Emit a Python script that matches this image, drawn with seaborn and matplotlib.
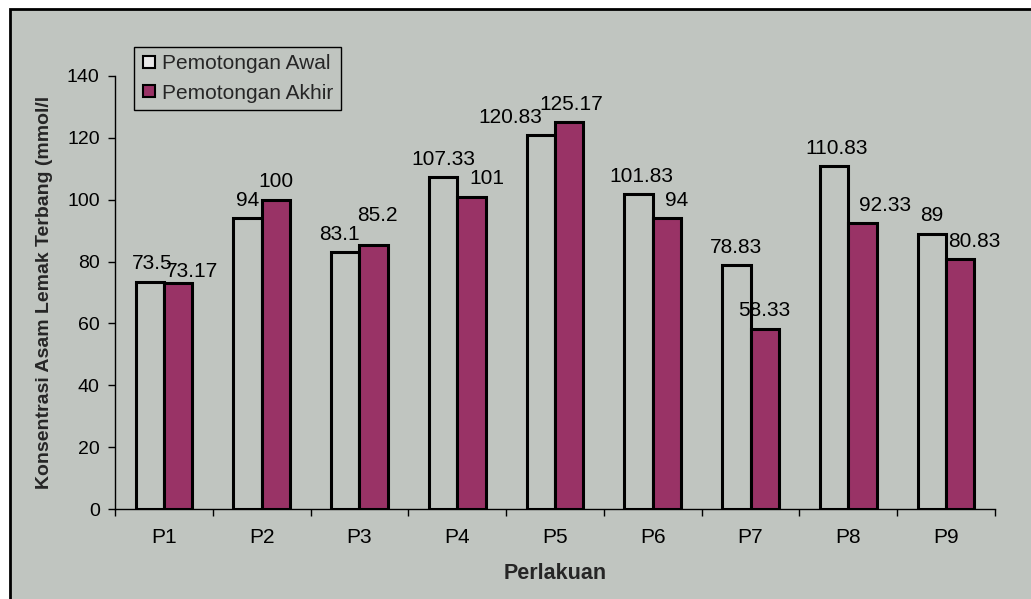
import numpy as np
import pandas as pd
import matplotlib.pyplot as plt
import seaborn as sns
from matplotlib.lines import Line2D
from matplotlib.patches import Rectangle

# data
perlakuan = ['P1', 'P2', 'P3', 'P4', 'P5', 'P6', 'P7', 'P8', 'P9']
awal = [73.5, 94, 83.1, 107.33, 120.83, 101.83, 78.83, 110.83, 89]
akhir = [73.17, 100, 85.2, 101, 125.17, 94, 58.33, 92.33, 80.83]
seri = ['Pemotongan Awal', 'Pemotongan Akhir']

# label nudges in pixels (the original labels were dragged around a bit)
dx_awal = [2, 0, -6, 0, -31, 3, 0, 2, 0]
dx_akhir = [14, 0, 4, 15, 2, 10, 0, 23, 14]
dy_awal = [0, 0, 0, 0, 0, 0, 0, 0, 0]
dy_akhir = [-7, 0, 12, 0, 0, 0, 0, 0, 0]

bg = '#C0C5C0'
maroon = '#993366'

df = pd.DataFrame({
    'Perlakuan': perlakuan * 2,
    'Seri': [seri[0]] * len(awal) + [seri[1]] * len(akhir),
    'Nilai': awal + akhir,
})

sns.set_style('ticks')
plt.rcParams['font.family'] = ['Liberation Sans', 'DejaVu Sans']

W, H = 1031, 599
fig = plt.figure(figsize=(W / 100, H / 100), dpi=100)
fig.patch.set_facecolor('white')
# grey chart area with the black frame (only top/left edge visible)
fig.add_artist(Rectangle((9.5 / W, -0.1), 1.2, 1.1 - 9.5 / H,
                         transform=fig.transFigure, facecolor=bg,
                         edgecolor='black', linewidth=2, zorder=-1))

ax = fig.add_axes([115 / W, 1 - 509 / H, 880 / W, 433 / H])
ax.set_facecolor('none')

sns.barplot(data=df, x='Perlakuan', y='Nilai', hue='Seri',
            palette=[bg, maroon], width=0.58, saturation=1,
            edgecolor='black', linewidth=2.2, legend=False, ax=ax)

# value labels above the bars
pad = 6
px = 72 / 100
for cont, vals, dxs, dys in zip(ax.containers, [awal, akhir],
                                [dx_awal, dx_akhir], [dy_awal, dy_akhir]):
    texts = ax.bar_label(cont, labels=[f'{v:g}' for v in vals], padding=pad,
                         fontsize=15, color='black')
    for t, dx, dy in zip(texts, dxs, dys):
        t.xyann = (dx * px, pad + dy * px)

ax.set_xlim(-0.5, len(perlakuan) - 0.5)
ax.set_ylim(0, 140)
ax.set_yticks(np.arange(0, 141, 20))
ax.tick_params(axis='y', length=5, width=1, pad=6, labelsize=14, colors='black')
ax.tick_params(axis='x', which='major', length=0, pad=14, labelsize=15, colors='black')
ax.set_xticks(np.arange(-0.5, len(perlakuan), 1), minor=True)
ax.tick_params(axis='x', which='minor', length=5, width=1, color='black')

for s in ['top', 'right']:
    ax.spines[s].set_visible(False)
for s in ['left', 'bottom']:
    ax.spines[s].set_color('black')
    ax.spines[s].set_linewidth(1)

ax.set_xlabel('Perlakuan', fontsize=15.5, fontweight='bold', labelpad=11)
ax.set_ylabel('Konsentrasi Asam Lemak Terbang (mmol/l', fontsize=14,
              fontweight='bold', labelpad=10)

handles = [
    Line2D([], [], marker='s', linestyle='none', markersize=8,
           markerfacecolor='#E8E8E8', markeredgecolor='black', markeredgewidth=1.5),
    Line2D([], [], marker='s', linestyle='none', markersize=8,
           markerfacecolor=maroon, markeredgecolor='black', markeredgewidth=1.5),
]
leg = ax.legend(handles, seri, loc='upper left', bbox_to_anchor=(0.0216, 1.067),
                frameon=True, fancybox=False, edgecolor='black', facecolor=bg,
                framealpha=1, fontsize=15, handlelength=0.7, handletextpad=0.3,
                borderpad=0.35, labelspacing=0.5, borderaxespad=0)
leg.get_frame().set_linewidth(1)

fig.savefig('out.png', dpi=100)
